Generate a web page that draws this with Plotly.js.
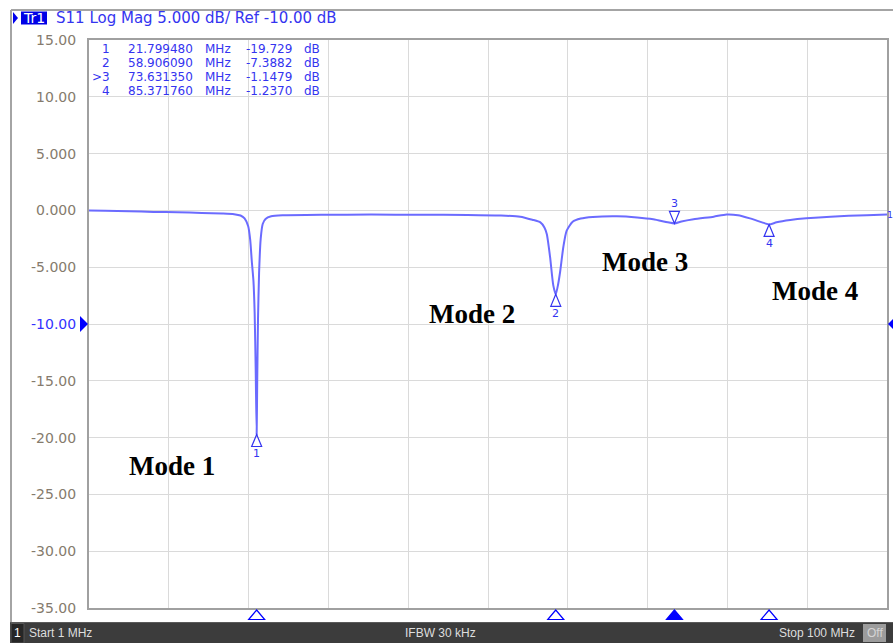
<!DOCTYPE html>
<html>
<head>
<meta charset="utf-8">
<script src="https://cdn.plot.ly/plotly-3.0.1.min.js"></script>
<style>html,body{margin:0;padding:0;background:#fff;}#chart{width:893px;height:643px;}</style>
</head>
<body>
<div id="chart"></div>
<script>
// ---- data ----
const freqMHz = [1.0, 3.0, 6.0, 9.0, 12.0, 15.0, 17.5, 19.0, 19.8, 20.3, 20.75, 21.0, 21.2, 21.4, 21.55, 21.68, 21.79948, 21.87, 21.97, 22.1, 22.3, 22.55, 22.9, 23.6, 25.0, 30.0, 36.0, 42.0, 48.0, 52.0, 54.5, 56.0, 57.0, 57.5, 57.8, 58.2, 58.6, 58.90609, 59.2, 59.45, 59.85, 60.25, 61.0, 62.0, 63.5, 66.5, 69.0, 71.0, 72.8, 73.63135, 74.5, 76.0, 78.5, 80.1, 81.5, 83.0, 84.5, 85.37176, 86.3, 88.0, 90.0, 93.0, 97.5, 100.0];
const s11dB   = [0.00, -0.03, -0.08, -0.13, -0.17, -0.22, -0.27, -0.33, -0.45, -0.70, -1.4, -2.6, -4.5, -6.2, -9.0, -14.0, -19.729, -15.0, -9.5, -5.5, -2.5, -1.2, -0.75, -0.52, -0.43, -0.38, -0.37, -0.38, -0.40, -0.45, -0.55, -0.82, -1.05, -1.5, -2.1, -4.1, -6.6, -7.3882, -6.5, -5.4, -3.2, -1.8, -1.0, -0.72, -0.58, -0.52, -0.62, -0.78, -1.05, -1.1479, -0.98, -0.78, -0.55, -0.36, -0.42, -0.70, -1.05, -1.2370, -1.05, -0.85, -0.70, -0.55, -0.42, -0.36];

const markerId    = ['1', '2', '3', '4'];
const markerFreq  = [21.799480, 58.906090, 73.631350, 85.371760];
const markerDb    = [-19.729, -7.3882, -1.1479, -1.2370];
const markerRowId = ['1', '2', '>3', '4'];
const markerFreqText = ['21.799480', '58.906090', '73.631350', '85.371760'];
const markerValText  = ['-19.729', '-7.3882', '-1.1479', '-1.2370'];
const activeMarker = 2;

const yTickVals = [15, 10, 5, 0, -5, -10, -15, -20, -25, -30, -35];
const yTickText = ['15.00', '10.00', '5.000', '0.000', '-5.000', '-10.00', '-15.00', '-20.00', '-25.00', '-30.00', '-35.00'];
const refLevel = -10;

const modeLabels = ['Mode 1', 'Mode 2', 'Mode 3', 'Mode 4'];
const modeFreq   = [11.3, 48.5, 70.0, 91.1];
const modeDb     = [-22.5, -9.15, -4.58, -7.13];

const headerText = 'S11 Log Mag 5.000 dB/ Ref -10.00 dB';
const footerStart = 'Start 1 MHz';
const footerMid = 'IFBW 30 kHz';
const footerStop = 'Stop 100 MHz';

// ---- layout helpers (pixel -> paper) ----
const L = 89, R = 887, T = 40, B = 608;
const PX = x => (x - L) / (R - L);
const PY = y => (B - y) / (B - T);
const BLUE = '#3434f0';
const FONT = 'DejaVu Sans';

const shapes = [];
const annotations = [];

// outer frame
shapes.push({type:'line', xref:'paper', yref:'paper', x0:PX(11), x1:PX(893), y0:PY(10), y1:PY(10), line:{color:'#a4a4a4', width:2}});
shapes.push({type:'line', xref:'paper', yref:'paper', x0:PX(11), x1:PX(11), y0:PY(10), y1:PY(622), line:{color:'#a4a4a4', width:2}});

// header
shapes.push({type:'path', xref:'paper', yref:'paper', path:`M${PX(13)},${PY(12)} L${PX(18)},${PY(18)} L${PX(13)},${PY(24)} Z`, fillcolor:'#0000ee', line:{width:0}});
shapes.push({type:'rect', xref:'paper', yref:'paper', x0:PX(21), x1:PX(47), y0:PY(11.5), y1:PY(24.5), fillcolor:'#0000e6', line:{width:0}});
annotations.push({xref:'paper', yref:'paper', x:PX(34), y:PY(18), text:'Tr1', showarrow:false, xanchor:'center', yanchor:'middle', font:{family:FONT, size:14, color:'#ffffff'}});
annotations.push({xref:'paper', yref:'paper', x:PX(54), y:PY(18), text:headerText, showarrow:false, xanchor:'left', yanchor:'middle', font:{family:FONT, size:15, color:BLUE}});

// marker table
const rowY = [49, 62.9, 76.8, 90.7];
const TF = {family:FONT, size:12, color:BLUE};
for (let i = 0; i < markerRowId.length; i++) {
  annotations.push({xref:'paper', yref:'paper', x:PX(111), y:PY(rowY[i]), text:markerRowId[i], showarrow:false, xanchor:'right', yanchor:'middle', borderpad:0, font:TF});
  annotations.push({xref:'paper', yref:'paper', x:PX(127), y:PY(rowY[i]), text:markerFreqText[i], showarrow:false, xanchor:'left', yanchor:'middle', borderpad:0, font:TF});
  annotations.push({xref:'paper', yref:'paper', x:PX(204), y:PY(rowY[i]), text:'MHz', showarrow:false, xanchor:'left', yanchor:'middle', borderpad:0, font:TF});
  annotations.push({xref:'paper', yref:'paper', x:PX(245), y:PY(rowY[i]), text:markerValText[i], showarrow:false, xanchor:'left', yanchor:'middle', borderpad:0, font:TF});
  annotations.push({xref:'paper', yref:'paper', x:PX(303), y:PY(rowY[i]), text:'dB', showarrow:false, xanchor:'left', yanchor:'middle', borderpad:0, font:TF});
}

// reference level pointers
shapes.push({type:'path', xref:'paper', yref:'y', xsizemode:'pixel', ysizemode:'pixel', xanchor:0, yanchor:refLevel, path:'M-1,0 L-9,8 L-9,-8 Z', fillcolor:'#0000ff', line:{width:0}});
shapes.push({type:'path', xref:'paper', yref:'y', xsizemode:'pixel', ysizemode:'pixel', xanchor:1, yanchor:refLevel, path:'M1,0 L9,8 L9,-8 Z', fillcolor:'#0000ff', line:{width:0}});

// markers on trace + bottom markers
for (let i = 0; i < markerFreq.length; i++) {
  const active = i === activeMarker;
  shapes.push({type:'path', xref:'x', yref:'y', xsizemode:'pixel', ysizemode:'pixel', xanchor:markerFreq[i], yanchor:markerDb[i],
    path: active ? 'M0,0 L-5,12 L5,12 Z' : 'M0,0 L-5,-12 L5,-12 Z', fillcolor:'rgba(0,0,0,0)', line:{color:BLUE, width:1.2}});
  annotations.push({xref:'x', yref:'y', x:markerFreq[i], y:markerDb[i], text:markerId[i], showarrow:false, xanchor:'center', yanchor:'middle', yshift: active ? 20 : -19, font:{family:FONT, size:11, color:BLUE}});
  shapes.push({type:'path', xref:'x', yref:'paper', xsizemode:'pixel', ysizemode:'pixel', xanchor:markerFreq[i], yanchor:0,
    path:'M0,-2 L-8,-11.5 L8,-11.5 Z', fillcolor: active ? '#0000ff' : 'rgba(0,0,0,0)', line:{color:'#0000ff', width:1.2}});
}

// trace end channel label
annotations.push({xref:'paper', yref:'y', x:1, y:s11dB[s11dB.length-1], text:'1', showarrow:false, xanchor:'left', yanchor:'middle', xshift:-1, borderpad:0, font:{family:FONT, size:9.5, color:BLUE}});

// mode labels
for (let i = 0; i < modeLabels.length; i++) {
  annotations.push({xref:'x', yref:'y', x:modeFreq[i], y:modeDb[i], text:'<b>' + modeLabels[i] + '</b>', showarrow:false, xanchor:'center', yanchor:'middle', font:{family:'Liberation Serif', size:27, color:'#000000'}});
}

// footer bar
shapes.push({type:'rect', xref:'paper', yref:'paper', x0:PX(10), x1:PX(893), y0:PY(622), y1:PY(643), fillcolor:'#3c3c3c', line:{width:0}});
shapes.push({type:'line', xref:'paper', yref:'paper', x0:PX(10), x1:PX(893), y0:PY(622.5), y1:PY(622.5), line:{color:'#5a5a5a', width:1}});
shapes.push({type:'rect', xref:'paper', yref:'paper', x0:PX(11), x1:PX(24), y0:PY(623.5), y1:PY(643), fillcolor:'#262626', line:{color:'#555555', width:1}});
shapes.push({type:'rect', xref:'paper', yref:'paper', x0:PX(863), x1:PX(886), y0:PY(624), y1:PY(642), fillcolor:'#9c9c9c', line:{width:0}});
annotations.push({xref:'paper', yref:'paper', x:PX(17.5), y:PY(633), text:'1', showarrow:false, xanchor:'center', yanchor:'middle', font:{family:'Liberation Sans', size:12, color:'#ffffff'}});
annotations.push({xref:'paper', yref:'paper', x:PX(27), y:PY(633), text:footerStart, showarrow:false, xanchor:'left', yanchor:'middle', font:{family:'Liberation Sans', size:12, color:'#dedede'}});
annotations.push({xref:'paper', yref:'paper', x:PX(440), y:PY(633), text:footerMid, showarrow:false, xanchor:'center', yanchor:'middle', font:{family:'Liberation Sans', size:12, color:'#dedede'}});
annotations.push({xref:'paper', yref:'paper', x:PX(857), y:PY(633), text:footerStop, showarrow:false, xanchor:'right', yanchor:'middle', font:{family:'Liberation Sans', size:12, color:'#dedede'}});
annotations.push({xref:'paper', yref:'paper', x:PX(874.5), y:PY(633), text:'Off', showarrow:false, xanchor:'center', yanchor:'middle', font:{family:'Liberation Sans', size:12, color:'#d4d4d4'}});

const tickText = yTickText.map((t, i) => yTickVals[i] === refLevel ? '<span style="color:#3333ff">' + t + '</span>' : t);

const trace = {
  x: freqMHz, y: s11dB, type:'scatter', mode:'lines',
  line:{color:'#6b6bff', width:2, shape:'spline', smoothing:0.6},
  hoverinfo:'skip'
};

const layout = {
  width:893, height:643,
  margin:{l:L, r:893 - R, t:T, b:643 - B, pad:0},
  paper_bgcolor:'#ffffff', plot_bgcolor:'#ffffff',
  showlegend:false,
  xaxis:{range:[1, 100], tickmode:'linear', tick0:1, dtick:9.9, showticklabels:false, ticks:'',
    showgrid:true, gridcolor:'#dadada', gridwidth:1, zeroline:false, showline:true, mirror:true, linecolor:'#a0a0a0', linewidth:2, fixedrange:true},
  yaxis:{range:[-35, 15], tickmode:'array', tickvals:yTickVals, ticktext:tickText, ticks:'', ticklabelstandoff:8,
    tickfont:{family:FONT, size:14, color:'#857b6d'},
    showgrid:true, gridcolor:'#dadada', gridwidth:1, zeroline:false, showline:true, mirror:true, linecolor:'#a0a0a0', linewidth:2, fixedrange:true},
  shapes: shapes,
  annotations: annotations
};

Plotly.newPlot('chart', [trace], layout, {displayModeBar:false, staticPlot:true});
</script>
</body>
</html>
